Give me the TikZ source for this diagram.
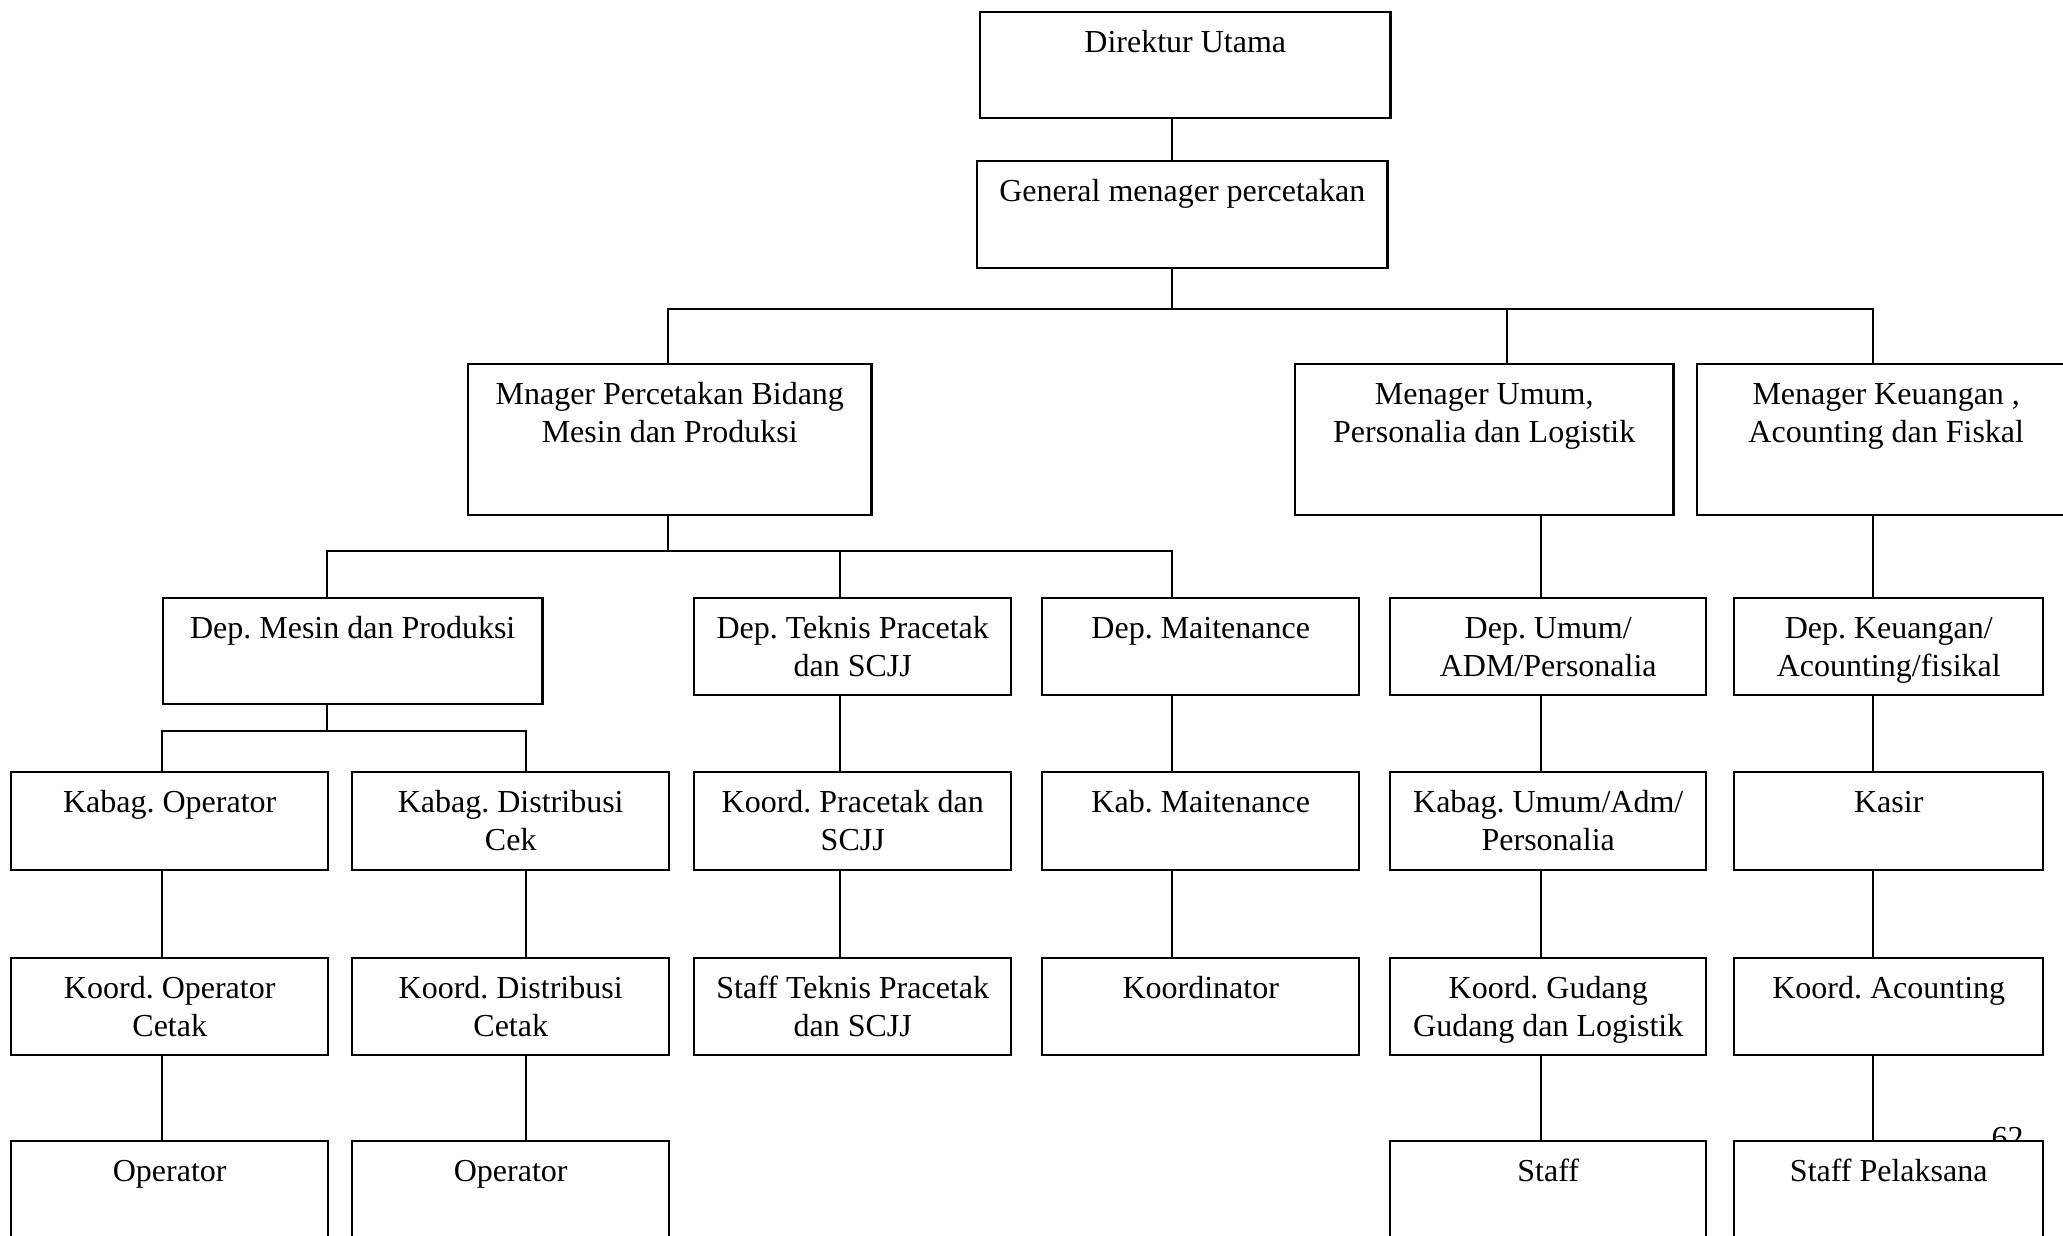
\documentclass[tikz,border=0pt]{standalone}
\usepackage{fontspec}
\setmainfont{Liberation Serif}
\frenchspacing
\usetikzlibrary{positioning}

\begin{document}
\begin{tikzpicture}[
     x=0.01cm, y=-0.01cm,
     % define styles
     unit/.style 2 args={
         draw, line width=0.65pt, fill=white, inner sep=0pt,
         anchor=north west,
         font=\fontsize{9.1}{10.9}\selectfont,
         execute at begin node={\begin{minipage}[t][#2][t]{#1}\centering\rule{0pt}{0.40cm}},
         execute at end node={\end{minipage}}
     },
     link/.style={draw, line width=0.5pt}
]
\useasboundingbox (0,0) rectangle (2063,1235);
\clip (0,0) rectangle (2063,1235);

% top
\node[unit={4.10cm}{1.06cm}] (dirut) at (979,11) {Direktur Utama};
\node[unit={4.10cm}{1.07cm}] (gm) at (976,160) {General menager percetakan};

% managers
\node[unit={4.03cm}{1.51cm}] (mgrmp) at (467,363) {Mnager Percetakan Bidang\\Mesin dan Produksi};
\node[unit={3.78cm}{1.51cm}] (mgrum) at (1294,363) {Menager Umum,\\Personalia dan Logistik};
\node[unit={3.78cm}{1.51cm}] (mgrku) at (1696,363) {Menager Keuangan ,\\Acounting dan Fiskal};

% departments
\node[unit={3.79cm}{1.06cm}] (depmp) at (162,597) {Dep. Mesin dan Produksi};
\node[unit={3.17cm}{0.97cm}] (deptp) at (693,597) {Dep. Teknis Pracetak\\dan SCJJ};
\node[unit={3.17cm}{0.97cm}] (depmt) at (1041,597) {Dep. Maitenance};
\node[unit={3.16cm}{0.97cm}] (depum) at (1389,597) {Dep. Umum/\\ADM/Personalia};
\node[unit={3.09cm}{0.97cm}] (depku) at (1733,597) {Dep. Keuangan/\\Acounting/fisikal};

% kabag
\node[unit={3.17cm}{0.98cm}] (kbop) at (10,771) {Kabag. Operator};
\node[unit={3.17cm}{0.98cm}] (kbdc) at (351,771) {Kabag. Distribusi\\Cek};
\node[unit={3.17cm}{0.98cm}] (kdpc) at (693,771) {Koord. Pracetak dan\\SCJJ};
\node[unit={3.17cm}{0.98cm}] (kbmt) at (1041,771) {Kab. Maitenance};
\node[unit={3.16cm}{0.98cm}] (kbum) at (1389,771) {Kabag. Umum/Adm/\\Personalia};
\node[unit={3.09cm}{0.98cm}] (ksr) at (1733,771) {Kasir};

% koordinator
\node[unit={3.17cm}{0.97cm}] (kdop) at (10,957) {Koord. Operator\\Cetak};
\node[unit={3.17cm}{0.97cm}] (kddc) at (351,957) {Koord. Distribusi\\Cetak};
\node[unit={3.17cm}{0.97cm}] (stpc) at (693,957) {Staff Teknis Pracetak\\dan SCJJ};
\node[unit={3.17cm}{0.97cm}] (kdmt) at (1041,957) {Koordinator};
\node[unit={3.16cm}{0.97cm}] (kdgd) at (1389,957) {Koord. Gudang\\Gudang dan Logistik};
\node[unit={3.09cm}{0.97cm}] (kdac) at (1733,957) {Koord. Acounting};

% page number, partly under the last box
\node[anchor=base west, inner sep=0pt, font=\fontsize{9.1}{10.9}\selectfont] (pgnum) at (1991,1148) {62};

% staff
\node[unit={3.17cm}{1.50cm}] (opa) at (10,1140) {Operator};
\node[unit={3.17cm}{1.50cm}] (opb) at (351,1140) {Operator};
\node[unit={3.16cm}{1.50cm}] (staf) at (1389,1140) {Staff};
\node[unit={3.09cm}{1.50cm}] (stpl) at (1733,1140) {Staff Pelaksana};

% bus points and column lines
\coordinate (bus1) at (1172,309);
\coordinate (bus2) at (668,551);
\coordinate (bus3) at (327,731);
\coordinate (cA) at (162,0);
\coordinate (cB) at (526,0);
\coordinate (cC) at (840,0);
\coordinate (cD) at (1172,0);
\coordinate (cU) at (1507,0);
\coordinate (cE) at (1541,0);
\coordinate (cF) at (1873,0);

% direktur - general manager
\draw[link] (dirut.south -| bus1) -- (gm.north -| bus1);
% general manager - managers
\draw[link] (gm.south -| bus1) -- (bus1);
\draw[link] (mgrmp.north -| bus2) |- (bus1) -| (mgrku.north -| cF);
\draw[link] (mgrum.north -| cU) -- (bus1 -| cU);
% manager mesin - departments
\draw[link] (mgrmp.south -| bus2) -- (bus2);
\draw[link] (depmp.north -| bus3) |- (bus2) -| (depmt.north -| cD);
\draw[link] (deptp.north -| cC) -- (bus2 -| cC);
% dep mesin - kabag
\draw[link] (depmp.south -| bus3) -- (bus3);
\draw[link] (kbop.north -| cA) |- (bus3) -| (kbdc.north -| cB);
% columns
\foreach \a/\b/\c in {kbop/kdop/cA, kdop/opa/cA, kbdc/kddc/cB, kddc/opb/cB,
                      deptp/kdpc/cC, kdpc/stpc/cC, depmt/kbmt/cD, kbmt/kdmt/cD,
                      mgrum/depum/cE, depum/kbum/cE, kbum/kdgd/cE, kdgd/staf/cE,
                      mgrku/depku/cF, depku/ksr/cF, ksr/kdac/cF, kdac/stpl/cF}
  \draw[link] (\a.south -| \c) -- (\b.north -| \c);

\end{tikzpicture}
\end{document}
